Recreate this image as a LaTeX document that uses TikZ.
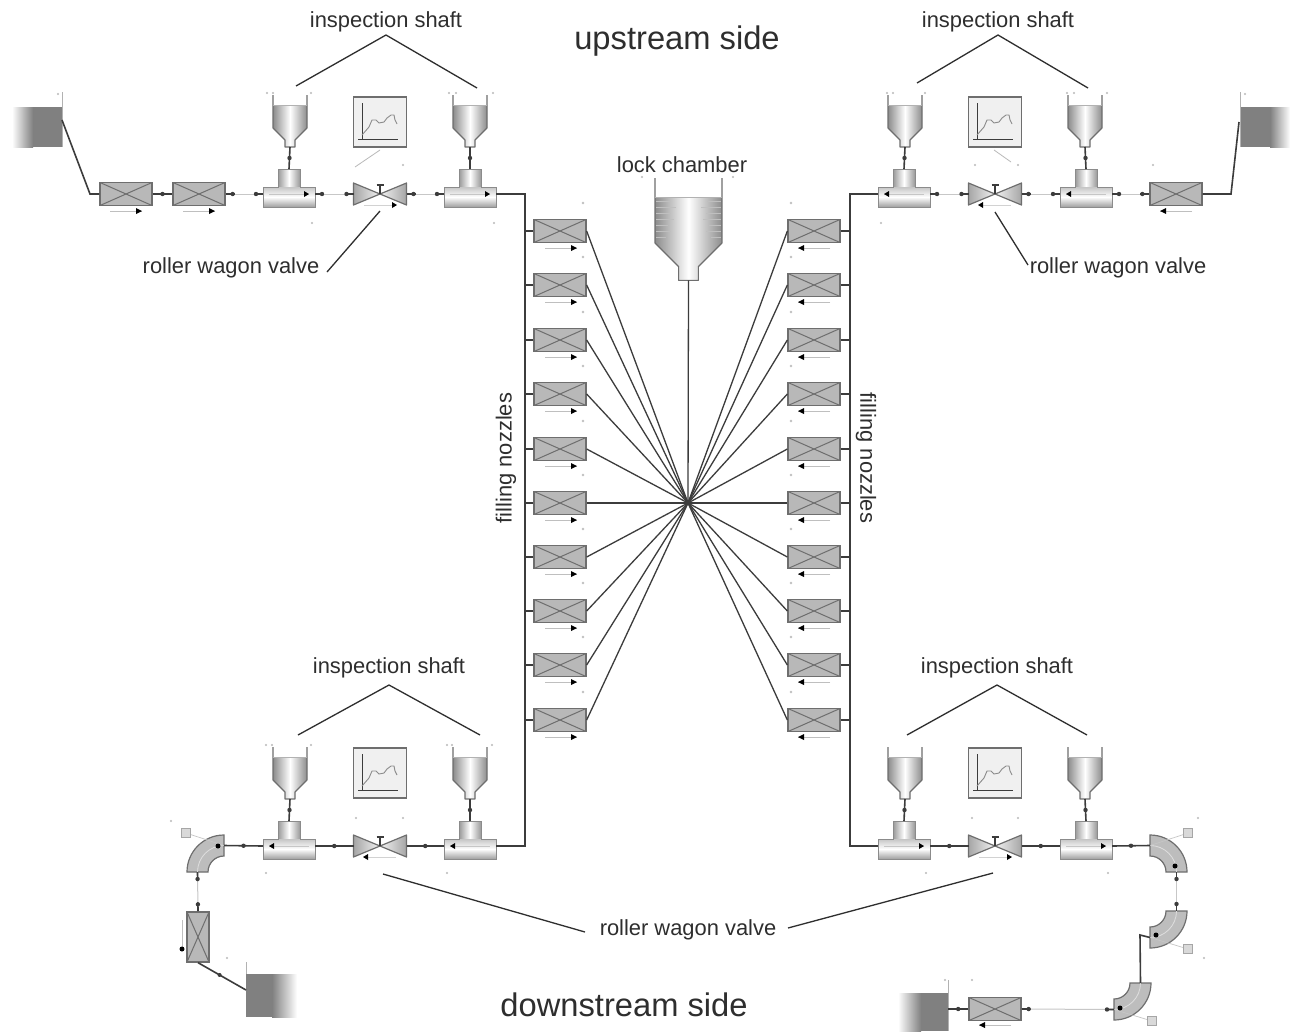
\documentclass[tikz,border=0pt]{standalone}
\usepackage{fontspec}
\setmainfont{Liberation Sans}
\usetikzlibrary{calc}
\definecolor{ink}{HTML}{2E2E2E}
\definecolor{pipec}{HTML}{3C3C3C}
\definecolor{edgec}{HTML}{6E6E6E}
\definecolor{bodyc}{HTML}{B8B8B8}
\definecolor{tankc}{HTML}{808080}
\tikzset{
  pipe/.style={draw=pipec,line width=1.6pt},
  thinpipe/.style={draw=black!22,line width=1pt},
  leader/.style={draw=ink,line width=1.3pt},
  spoke/.style={draw=pipec,line width=1.3pt},
  labeltext/.style={text=ink,font=\fontsize{21.9}{24}\selectfont,inner sep=0pt},
  bigtext/.style={text=ink,font=\fontsize{32.7}{35}\selectfont,inner sep=0pt},
  nozzlebox/.style={draw=edgec,line width=1.3pt,fill=bodyc,minimum width=52pt,minimum height=23pt,inner sep=0pt,
    path picture={\draw[edgec,line width=1pt]
      (path picture bounding box.north west)--(path picture bounding box.south east)
      (path picture bounding box.south west)--(path picture bounding box.north east);}},
  vnozzlebox/.style={nozzlebox,minimum width=22pt,minimum height=50pt},
  pics/tee/.style={code={
    \shade[left color=gray!80,right color=gray!80,middle color=white] (-11,-7) rectangle (11,-25);
    \shade[top color=gray!45,bottom color=gray!75,middle color=white] (-26,-7) rectangle (26,13);
    \draw[edgec!80,line width=1pt] (-26,-7) -- (-11,-7) -- (-11,-25) -- (11,-25) -- (11,-7) -- (26,-7) -- (26,13) -- (-26,13) -- cycle;
    \draw[gray!45,line width=.8pt] (-20,0) -- (20,0);
    \fill[black] (17*#1+3*#1,0) -- (17*#1-2*#1,-3) -- (17*#1-2*#1,3) -- cycle;
    \coordinate (-l) at (-26,0);
    \coordinate (-r) at (26,0);
    \coordinate (-u) at (0,-25);
  }},
  pics/valve/.style={code={
    \shade[left color=gray!70,right color=gray!10] (-26.5,-11) -- (0,0) -- (-26.5,11) -- cycle;
    \shade[right color=gray!70,left color=gray!10] (26.5,-11) -- (0,0) -- (26.5,11) -- cycle;
    \draw[edgec,line width=1.2pt,line join=round] (-26.5,-11) -- (26.5,11) -- (26.5,-11) -- (-26.5,11) -- cycle;
    \draw[pipec,line width=1.3pt] (0,0) -- (0,-9) (-3.5,-9) -- (3.5,-9);
    \draw[gray!35,line width=.8pt] (-16,11) -- (16,11);
    \fill[black] (14*#1+3*#1,11) -- (14*#1-2*#1,8) -- (14*#1-2*#1,14) -- cycle;
    \coordinate (-l) at (-26.5,0);
    \coordinate (-r) at (26.5,0);
  }},
  pics/hopper/.style={code={
    \shade[left color=gray!90,right color=gray!90,middle color=white]
      (-17,10) -- (17,10) -- (17,33) -- (5,45) -- (5,52) -- (-5,52) -- (-5,45) -- (-17,33) -- cycle;
    \draw[edgec,line width=1.1pt,line join=round]
      (-17,0) -- (-17,33) -- (-5,45) -- (-5,52) -- (5,52) -- (5,45) -- (17,33) -- (17,0);
    \draw[gray!60,line width=.8pt] (-17,10) -- (17,10);
    \coordinate (-o) at (0,52);
  }},
  pics/monitor/.style={code={
    \draw[edgec,line width=1.4pt,fill=gray!12] (-26.5,-25) rectangle (26.5,25);
    \draw[pipec,line width=1pt] (-18,-19) -- (-18,18) (-22,17) -- (18,17);
    \draw[edgec!80,line width=.9pt] (-18,13) -- (-11,5) -- (-8,-2) -- (-4,-2) -- (-1,1) -- (4,0) -- (7,-4) -- (11,-7) -- (14,-7) -- (15,-2) -- (17,2);
  }},
}
\newcommand{\elbowpiece}[4]{%
  \begin{scope}[shift={(#2,#3)},rotate=#4]
    \draw[edgec,line width=1.2pt,fill=gray!52] (37pt,0pt) arc[start angle=0,end angle=90,radius=37pt] -- (0pt,16pt) arc[start angle=90,end angle=0,radius=16pt] -- cycle;
    \draw[gray!25,line width=.8pt] (26.5pt,0pt) arc[start angle=0,end angle=90,radius=26.5pt];
    \coordinate (#1-a) at (26.5pt,0pt);
    \coordinate (#1-b) at (0pt,26.5pt);
  \end{scope}}
\newcommand{\solidlink}[2]{%
  \draw[pipe] (#1) -- (#2);
  \fill[pipec] ($(#1)!.5!(#2)$) circle (2.2pt);}
\newcommand{\fadelink}[2]{%
  \draw[thinpipe] (#1) -- (#2);
  \draw[pipe] (#1) -- ($(#1)!9pt!(#2)$) (#2) -- ($(#2)!9pt!(#1)$);
  \fill[pipec] ($(#1)!7pt!(#2)$) circle (2.2pt) ($(#2)!7pt!(#1)$) circle (2.2pt);}
\newcommand{\flowarrow}[4]{% from x, to x (tip), y
  \draw[#4,line width=.9pt] (#1,#3) -- (#2,#3);
  \fill[black] (#2,#3) -- ($(#2,#3)!6pt!(#1,#3)+(0,-3)$) -- ($(#2,#3)!6pt!(#1,#3)+(0,3)$) -- cycle;}
\newcommand{\smallsquare}[3]{%
  \draw[gray!45,line width=.7pt] (#2,#3) -- (#1);
  \draw[gray!70,line width=1pt,fill=gray!30] ($(#2,#3)+(-4.5,-4.5)$) rectangle ($(#2,#3)+(4.5,4.5)$);}
\begin{document}
\begin{tikzpicture}[x=1pt,y=-1pt]
\useasboundingbox (0,0) rectangle (1290,1031);
\fill[white] (0,0) rectangle (1290,1031);

% tanks
\shade[left color=white,right color=tankc] (12,107) rectangle (33,147);
\fill[tankc] (32.5,107) rectangle (62,147);
\draw[gray!60,line width=.8pt] (62,92) -- (62,147);
\coordinate (tankA) at (62,120);
\shade[right color=white,left color=tankc] (1270,107) rectangle (1290,147);
\fill[tankc] (1240,107) rectangle (1270.5,147);
\draw[gray!60,line width=.8pt] (1240,92) -- (1240,147);
\coordinate (tankB) at (1239,122);
\shade[right color=white,left color=tankc] (272,974) rectangle (297,1017);
\fill[tankc] (246,974) rectangle (272.5,1017);
\draw[gray!60,line width=.8pt] (246,962) -- (246,974);
\coordinate (tankC) at (246,990);
\shade[left color=white,right color=tankc] (898,993) rectangle (921,1031);
\fill[tankc] (920.5,993) rectangle (948,1031);
\draw[gray!60,line width=.8pt] (948,980) -- (948,1031);
\coordinate (tankD) at (948,1009);

% upstream left
\coordinate (cornerA) at (90,194);
\node[nozzlebox] (ua1) at (126,194) {};
\node[nozzlebox] (ua2) at (199,194) {};
\pic (ut1) at (289,194) {tee=1};
\pic (uv1) at (380,194) {valve=1};
\pic (ut2) at (470,194) {tee=1};
\pic (uh1) at (290,95) {hopper};
\pic (uh2) at (470,95) {hopper};
\pic at (380,122) {monitor};
\draw[gray!55,line width=.8pt] (355,167) -- (380,150);
\flowarrow{110}{142}{211}{gray!50}
\flowarrow{183}{215}{211}{gray!50}
\draw[pipe] (tankA) -- (cornerA) -- (ua1.west);
\solidlink{ua1.east}{ua2.west}
\fadelink{ua2.east}{ut1-l}
\fadelink{ut1-r}{uv1-l}
\fadelink{uv1-r}{ut2-l}
\solidlink{uh1-o}{ut1-u}
\solidlink{uh2-o}{ut2-u}

% upstream right
\coordinate (cornerB) at (1231,194);
\node[nozzlebox] (ub1) at (1176,194) {};
\pic (ut3) at (904,194) {tee=-1};
\pic (uv2) at (995,194) {valve=-1};
\pic (ut4) at (1086,194) {tee=-1};
\pic (uh3) at (905,95) {hopper};
\pic (uh4) at (1085,95) {hopper};
\pic at (995,122) {monitor};
\draw[gray!55,line width=.8pt] (1011,162) -- (994,150);
\flowarrow{1192}{1160}{211}{gray!50}
\draw[pipe] (tankB) -- (cornerB) -- (ub1.east);
\fadelink{ub1.west}{ut4-r}
\fadelink{ut4-l}{uv2-r}
\fadelink{uv2-l}{ut3-r}
\solidlink{uh3-o}{ut3-u}
\solidlink{uh4-o}{ut4-u}

% downstream left
\pic (dt1) at (289,846) {tee=-1};
\pic (dv1) at (380,846) {valve=-1};
\pic (dt2) at (470,846) {tee=-1};
\pic (dh1) at (290,747) {hopper};
\pic (dh2) at (470,747) {hopper};
\pic at (380,773) {monitor};
\elbowpiece{de1}{224}{872}{90}
\smallsquare{de1-a}{186}{833}
\fill[black] (218,846) circle (2.5pt);
\node[vnozzlebox] (dn1) at (198,937) {};
\draw[gray!50,line width=.9pt] (182,920) -- (182,947);
\fill[black] (182,949) circle (2.5pt);
\draw[pipe] (dn1.south) -- (tankC);
\fill[pipec] ($(dn1.south)!.45!(tankC)$) circle (2pt);
\fadelink{de1-b}{dn1.north}
\solidlink{de1-a}{dt1-l}
\solidlink{dt1-r}{dv1-l}
\solidlink{dv1-r}{dt2-l}
\solidlink{dh1-o}{dt1-u}
\solidlink{dh2-o}{dt2-u}

% downstream right
\pic (dt3) at (904,846) {tee=1};
\pic (dv2) at (995,846) {valve=1};
\pic (dt4) at (1086,846) {tee=1};
\pic (dh3) at (905,747) {hopper};
\pic (dh4) at (1085,747) {hopper};
\pic at (995,773) {monitor};
\elbowpiece{de2}{1150}{872}{0}
\elbowpiece{de3}{1150}{911}{-90}
\elbowpiece{de4}{1114}{983}{-90}
\smallsquare{de2-b}{1188}{833}
\smallsquare{de3-a}{1188}{949}
\smallsquare{de4-a}{1152}{1021}
\fill[black] (1175,866) circle (2.5pt) (1156,935) circle (2.5pt) (1120,1008) circle (2.5pt);
\node[nozzlebox] (dn2) at (995,1009) {};
\flowarrow{1011}{979}{1025}{gray!50}
\coordinate (kink) at (1140,935);
\solidlink{dt3-r}{dv2-l}
\solidlink{dv2-r}{dt4-l}
\solidlink{dt4-r}{de2-b}
\fadelink{de2-a}{de3-b}
\draw[pipe] (de3-a) -- (kink) -- (de4-b);
\fadelink{dn2.east}{de4-a}
\solidlink{tankD}{dn2.west}
\solidlink{dh3-o}{dt3-u}
\solidlink{dh4-o}{dt4-u}

% buses
\coordinate (busLt) at (525,194);
\coordinate (busLb) at (525,846);
\coordinate (busRt) at (850,194);
\coordinate (busRb) at (850,846);
\draw[pipe] (ut2-r) -- (busLt) -- (busLb) -- (dt2-r);
\draw[pipe] (ut3-l) -- (busRt) -- (busRb) -- (dt3-l);

% lock chamber
\coordinate (hub) at (688,503);
\pic[scale=1.97] (lock) at (688.5,178) {hopper};
\foreach \yy/\ww in {201/14,207/20,213/15,219/18,225/12,231/15,237/10}{
  \draw[gray!50,line width=.7pt] (656,\yy) -- ++(\ww,0);
  \draw[gray!50,line width=.7pt] (721,\yy) -- ++(-\ww,0);
}
\draw[spoke] (lock-o) -- (hub);

% filling nozzles
\foreach \i/\yy in {1/231,2/285,3/340,4/394,5/449,6/503,7/557,8/611,9/665,10/720}{
  \node[nozzlebox] (nl\i) at (560,\yy) {};
  \node[nozzlebox] (nr\i) at (814,\yy) {};
  \draw[pipe] (nl\i.west) -- (nl\i.west -| busLt);
  \draw[pipe] (nr\i.east) -- (nr\i.east -| busRt);
  \draw[spoke] (nl\i.east) -- (hub);
  \draw[spoke] (nr\i.west) -- (hub);
  \flowarrow{545}{577}{\yy+17}{gray!50}
  \flowarrow{830}{798}{\yy+17}{gray!50}
  \fill[gray!50] (583,\yy-28) circle (1.3pt) (791,\yy-28) circle (1.3pt);
}

% faint marker dots
\foreach \px/\py in {58/94,267/93,273/93,311/93,312/223,403/165,494/223,449/93,456/93,493/93,
  733/177,642/177,887/93,893/93,925/93,1067/93,1074/93,1107/93,881/223,1153/165,975/165,1018/165,1245/94,
  266/745,272/745,311/745,447/745,452/745,492/745,266/873,447/873,356/818,403/818,
  926/873,1108/873,972/818,1018/818,1198/818,1204/958,945/980,972/980,
  171/821,227/958}{
  \fill[gray!55] (\px,\py) circle (1.1pt);
}

% labels
\node[labeltext] (insA) at (386,21.5) {inspection shaft};
\node[labeltext] (insB) at (998,21.5) {inspection shaft};
\node[labeltext] (insC) at (389,667.5) {inspection shaft};
\node[labeltext] (insD) at (997,667.5) {inspection shaft};
\node[bigtext] (upT) at (677,41) {upstream side};
\node[bigtext] (downT) at (624,1005) {downstream side};
\node[labeltext] (lockT) at (682,165) {lock chamber};
\node[labeltext] (rwA) at (231,267.5) {roller wagon valve};
\node[labeltext] (rwB) at (1118,267.5) {roller wagon valve};
\node[labeltext] (rwC) at (688,929.5) {roller wagon valve};
\node[labeltext,rotate=90] (fnL) at (506,458) {filling nozzles};
\node[labeltext,rotate=-90] (fnR) at (866,458) {filling nozzles};

% leaders
\coordinate (apA) at (386,35);
\coordinate (apB) at (998,35);
\coordinate (apC) at (389,685);
\coordinate (apD) at (997,685);
\draw[leader] (296,86) -- (apA) -- (477,88);
\draw[leader] (917,83) -- (apB) -- (1088,88);
\draw[leader] (298,735) -- (apC) -- (480,735);
\draw[leader] (907,735) -- (apD) -- (1087,735);
\draw[leader] (327,272) -- (380,211);
\draw[leader] (1028,265) -- (995,212);
\draw[leader] (383,874) -- (585,932);
\draw[leader] (788,928) -- (993,873);
\end{tikzpicture}
\end{document}
